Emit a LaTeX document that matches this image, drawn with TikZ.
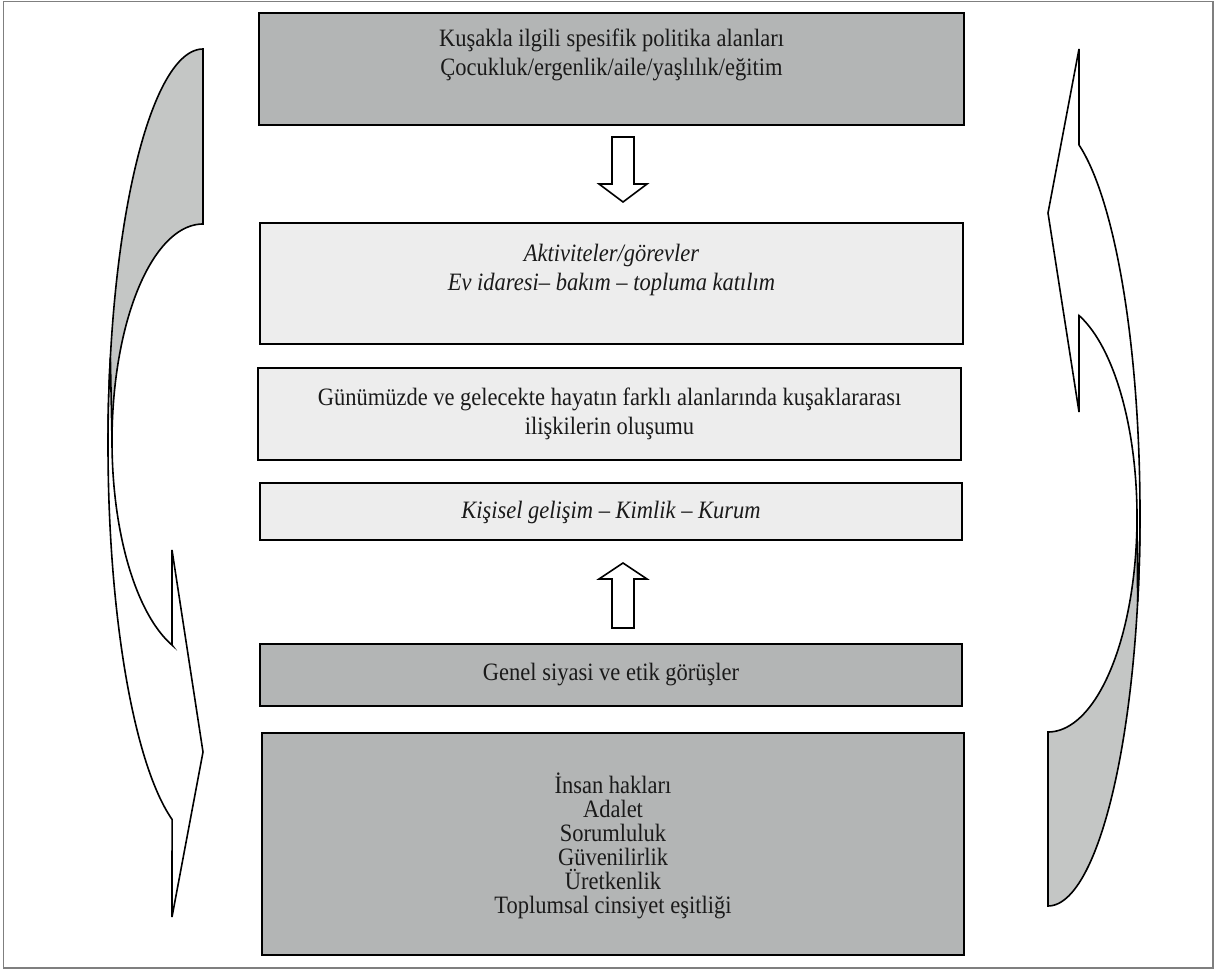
\documentclass[tikz,border=0pt]{standalone}
\usepackage{fontspec}
\setmainfont{Liberation Serif}[FakeStretch=0.9]
\usetikzlibrary{calc}
\definecolor{darkbox}{HTML}{B3B5B5}
\definecolor{lightbox}{HTML}{EDEDED}
\definecolor{arrowgray}{HTML}{C4C6C5}
\definecolor{txt}{HTML}{1A1A1A}
\definecolor{framegray}{HTML}{7F7F7F}
\begin{document}
\begin{tikzpicture}[x=1pt,y=-1pt,
  box/.style={draw=black, line width=2.2pt, inner sep=0pt, outer sep=0pt},
  lbl/.style={text=txt, align=center, font=\fontsize{25}{29}\selectfont, inner sep=0pt},
  ilbl/.style={lbl, font=\fontsize{25}{29}\selectfont\itshape},
  curv/.style={draw=black, line width=1.6pt, line join=miter},
  blockarrow/.style={draw=black, fill=white, line width=1.6pt, line join=miter}]
\useasboundingbox (0,0) rectangle (1223,973);
\draw[framegray, line width=1.6pt] (3.5,1.5) rectangle (1213,968);

% boxes
\node[box, fill=darkbox,  minimum width=705pt, minimum height=112pt] (b1) at (611.5,69) {};
\node[box, fill=lightbox, minimum width=703pt, minimum height=121pt] (b2) at (611.5,283.5) {};
\node[box, fill=lightbox, minimum width=703pt, minimum height=92pt]  (b3) at (609.5,414) {};
\node[box, fill=lightbox, minimum width=702pt, minimum height=57pt]  (b4) at (611,511.5) {};
\node[box, fill=darkbox,  minimum width=702pt, minimum height=62pt]  (b5) at (611,675) {};
\node[box, fill=darkbox,  minimum width=702pt, minimum height=222pt] (b6) at (613,844) {};

% texts
\node[lbl] (t1) at (611.5,55) {Kuşakla ilgili spesifik politika alanları\\Çocukluk/ergenlik/aile/yaşlılık/eğitim};
\node[ilbl] (t2) at (611.5,270) {Aktiviteler/görevler\\Ev idaresi– bakım – topluma katılım};
\node[lbl] (t3) at (609.5,414) {Günümüzde ve gelecekte hayatın farklı alanlarında kuşaklararası\\ilişkilerin oluşumu};
\node[ilbl] (t4) at (611,512) {Kişisel gelişim – Kimlik – Kurum};
\node[lbl] (t5) at (611,675) {Genel siyasi ve etik görüşler};
\node[lbl, font=\fontsize{25}{24}\selectfont] (t6) at (613,846) {İnsan hakları\\Adalet\\Sorumluluk\\Güvenilirlik\\Üretkenlik\\Toplumsal cinsiyet eşitliği};

% block arrows
\coordinate (da) at (623,137);
\coordinate (ua) at (623,628);
\draw[blockarrow] ($(da)+(-11,0)$) -- ($(da)+(-11,47)$) -- ($(da)+(-24,47)$) -- ($(da)+(0,65)$)
  -- ($(da)+(24,47)$) -- ($(da)+(11,47)$) -- ($(da)+(11,0)$) -- cycle;
\draw[blockarrow] ($(ua)+(-11,0)$) -- ($(ua)+(-11,-49)$) -- ($(ua)+(-24,-49)$) -- ($(ua)+(0,-65)$)
  -- ($(ua)+(24,-49)$) -- ($(ua)+(11,-49)$) -- ($(ua)+(11,0)$) -- cycle;

% left curved arrow
\path[curv, fill=arrowgray]
  plot[domain=-90:-180, samples=70, variable=\t] ({203+95*cos(\t)},{445+396*sin(\t)})
  -- plot[domain=-180:-90, samples=70, variable=\t] ({203+91*cos(\t)},{441+217*sin(\t)})
  -- cycle;
\path[curv, fill=white]
  plot[domain=-167.2:-251, samples=90, variable=\t] ({203+95*cos(\t)},{445+396*sin(\t)})
  -- (172,917) -- (203,752) -- (172,550) -- (172,645)
  -- plot[domain=-250.1:-180, samples=70, variable=\t] ({203+91*cos(\t)},{441+217*sin(\t)})
  -- cycle;

% right curved arrow
\path[curv, fill=arrowgray]
  plot[domain=0:90, samples=70, variable=\t] ({1048+92*cos(\t)},{514+392*sin(\t)})
  -- plot[domain=90:0, samples=70, variable=\t] ({1048+89*cos(\t)},{517+215*sin(\t)})
  -- cycle;
\path[curv, fill=white]
  plot[domain=13:-70.3, samples=90, variable=\t] ({1048+92*cos(\t)},{514+392*sin(\t)})
  -- (1079,49) -- (1048,213) -- (1079,412) -- (1079,316)
  -- plot[domain=-69.6:0, samples=70, variable=\t] ({1048+89*cos(\t)},{517+215*sin(\t)})
  -- cycle;
\end{tikzpicture}
\end{document}
